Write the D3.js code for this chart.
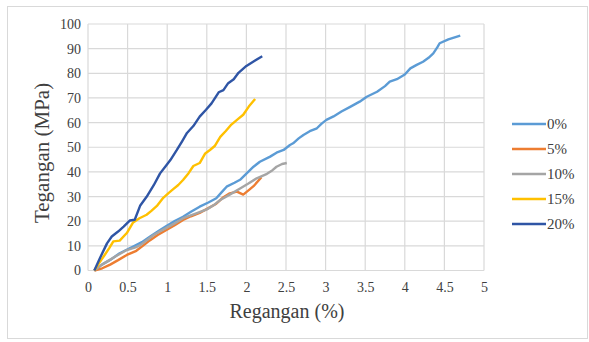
<!DOCTYPE html>
<html>
<head>
<meta charset="utf-8">
<script src="https://cdn.jsdelivr.net/npm/d3@7"></script>
<style>
  body { margin: 0; background: #fff; }
</style>
</head>
<body>
<svg id="chart" width="589" height="342"></svg>
<script>
// Data: [regangan %, tegangan MPa]
var seriesNames = [ "0%", "5%", "10%", "15%", "20%" ];
var seriesColors = [ "#5b9bd5", "#ed7d31", "#a5a5a5", "#ffc000", "#2f55a5" ];

var s0 = [ [0.08,0], [0.18,2.5], [0.28,4.3], [0.4,7], [0.57,9.7], [0.68,11.5], [0.78,13.7],
    [0.9,16.2], [0.99,18], [1.1,20.2], [1.2,21.8], [1.3,23.8], [1.41,25.9], [1.52,27.6],
    [1.62,29.3], [1.68,31.5], [1.75,34], [1.85,35.6], [1.92,36.8], [2.0,39.3], [2.09,42.1],
    [2.17,44.1], [2.3,46.2], [2.38,47.8], [2.47,48.9], [2.55,50.9], [2.59,51.6], [2.66,53.6],
    [2.72,55], [2.8,56.5], [2.89,57.7], [2.95,59.6], [3.01,61.1], [3.1,62.5], [3.2,64.5],
    [3.31,66.4], [3.43,68.5], [3.52,70.5], [3.65,72.5], [3.75,74.8], [3.81,76.6], [3.9,77.6],
    [4.0,79.5], [4.07,82], [4.15,83.4], [4.23,84.7], [4.3,86.3], [4.36,88.1], [4.41,90.5],
    [4.44,92.2], [4.55,93.8], [4.7,95.3] ];
var s5 = [ [0.08,0], [0.18,0.9], [0.28,2.4], [0.38,4.2], [0.49,6.3], [0.61,8.0], [0.7,10.2],
    [0.78,12.2], [0.88,14.4], [0.99,16.4], [1.1,18.5], [1.2,20.5], [1.3,22], [1.41,23.4],
    [1.52,25.3], [1.62,27.1], [1.7,29.5], [1.79,31.3], [1.88,32], [1.96,30.8], [2.03,32.6],
    [2.09,34.2], [2.19,37.8] ];
var s10 = [ [0.08,0], [0.16,2], [0.24,3.6], [0.35,5.8], [0.49,8.3], [0.6,9.4], [0.66,10.3],
    [0.75,12.5], [0.83,14.4], [0.9,15.7], [0.99,17.3], [1.1,19.2], [1.2,21.2], [1.35,23],
    [1.5,24.8], [1.6,26.8], [1.67,28.6], [1.8,31], [1.92,33.3], [2.02,35.2], [2.13,37.4],
    [2.26,39.2], [2.33,40.7], [2.38,42.1], [2.45,43.2], [2.51,43.6] ];
var s15 = [ [0.08,0], [0.14,3], [0.21,6.3], [0.27,9.2], [0.32,11.8], [0.4,12.1], [0.49,15.2],
    [0.57,19.5], [0.65,21.2], [0.74,22.6], [0.8,24.2], [0.87,26.2], [0.95,29.5], [1.02,31.5],
    [1.08,33.1], [1.14,34.7], [1.2,36.7], [1.27,39.5], [1.33,42.4], [1.41,43.6], [1.48,47.5],
    [1.54,48.9], [1.6,50.5], [1.67,54.2], [1.74,56.6], [1.81,59.2], [1.9,61.6], [1.96,63.2],
    [2.03,66.5], [2.11,69.6] ];
var s20 = [ [0.08,0], [0.15,5], [0.24,11], [0.3,13.8], [0.38,15.8], [0.45,17.8], [0.53,20.3],
    [0.59,20.6], [0.66,26.4], [0.74,29.9], [0.83,34.6], [0.91,39.4], [0.98,42.3], [1.04,44.8],
    [1.12,48.8], [1.19,52.5], [1.25,55.8], [1.33,58.6], [1.41,62.4], [1.49,65.2], [1.56,67.8],
    [1.65,72.3], [1.71,73.2], [1.77,76], [1.84,77.6], [1.9,80.2], [2.0,83], [2.1,85], [2.2,86.9] ];
var allSeries = [ s0, s5, s10, s15, s20 ];

var xTicks = [ 0, 0.5, 1, 1.5, 2, 2.5, 3, 3.5, 4, 4.5, 5 ];
var yTicks = [ 0, 10, 20, 30, 40, 50, 60, 70, 80, 90, 100 ];

var serif = "'Liberation Serif', 'Times New Roman', serif";
var svg = d3.select( "#chart" );

// outer chart border
svg.append( "rect" ).attr( "x", 7.5 ).attr( "y", 6.5 )
    .attr( "width", 580 ).attr( "height", 332 )
    .attr( "fill", "none" ).attr( "stroke", "#d9d9d9" );

var scX = d3.scaleLinear().domain( [0, 5] ).range( [88, 484] );
var scY = d3.scaleLinear().domain( [0, 100] ).range( [270.5, 24] );

// grid
var grid = svg.append( "g" ).attr( "stroke", "#d9d9d9" ).attr( "stroke-width", 1.2 );
grid.selectAll( "line.v" ).data( xTicks ).enter().append( "line" )
    .attr( "x1", scX ).attr( "x2", scX )
    .attr( "y1", scY(0) ).attr( "y2", scY(100) );
grid.selectAll( "line.h" ).data( yTicks ).enter().append( "line" )
    .attr( "x1", scX(0) ).attr( "x2", scX(5) )
    .attr( "y1", scY ).attr( "y2", scY );

// axes (text only, Excel style)
var xAxis = svg.append( "g" ).attr( "transform", "translate(0," + scY(0) + ")" )
    .call( d3.axisBottom( scX ).tickValues( xTicks ).tickFormat( d3.format( "~g" ) )
        .tickSize( 0 ).tickPadding( 12 ) );
var yAxis = svg.append( "g" ).attr( "transform", "translate(" + scX(0) + ",0)" )
    .call( d3.axisLeft( scY ).tickValues( yTicks ).tickSize( 0 ).tickPadding( 7 ) );
[ xAxis, yAxis ].forEach( function( a ) {
    a.select( ".domain" ).remove();
    a.attr( "font-family", serif ).attr( "font-size", 14 );
    a.selectAll( "text" ).style( "font-size", "14px" )
        .style( "font-family", serif ).style( "fill", "#404040" );
} );

// axis titles
svg.append( "text" ).attr( "x", 287 ).attr( "y", 318 ).attr( "text-anchor", "middle" )
    .style( "font-family", serif ).style( "font-size", "20px" ).style( "fill", "#404040" )
    .text( "Regangan (%)" );
svg.append( "text" ).attr( "transform", "translate(49,153) rotate(-90)" )
    .attr( "text-anchor", "middle" )
    .style( "font-family", serif ).style( "font-size", "21px" ).style( "fill", "#404040" )
    .text( "Tegangan (MPa)" );

// lines
var lineMkr = d3.line().x( d => scX(d[0]) ).y( d => scY(d[1]) );
svg.append( "g" ).selectAll( "path" ).data( allSeries ).enter().append( "path" )
    .attr( "d", lineMkr ).attr( "fill", "none" )
    .attr( "stroke", (d, i) => seriesColors[i] )
    .attr( "stroke-width", 2.4 ).attr( "stroke-linejoin", "round" );

// legend
var lg = svg.append( "g" ).selectAll( "g" ).data( seriesNames ).enter().append( "g" )
    .attr( "transform", (d, i) => "translate(512," + (124 + i * 25) + ")" );
lg.append( "line" ).attr( "x1", 0 ).attr( "x2", 34 )
    .attr( "stroke", (d, i) => seriesColors[i] ).attr( "stroke-width", 2.4 );
lg.append( "text" ).attr( "x", 35 ).attr( "y", 5 )
    .style( "font-family", serif ).style( "font-size", "15px" ).style( "fill", "#404040" )
    .text( d => d );
</script>
</body>
</html>
